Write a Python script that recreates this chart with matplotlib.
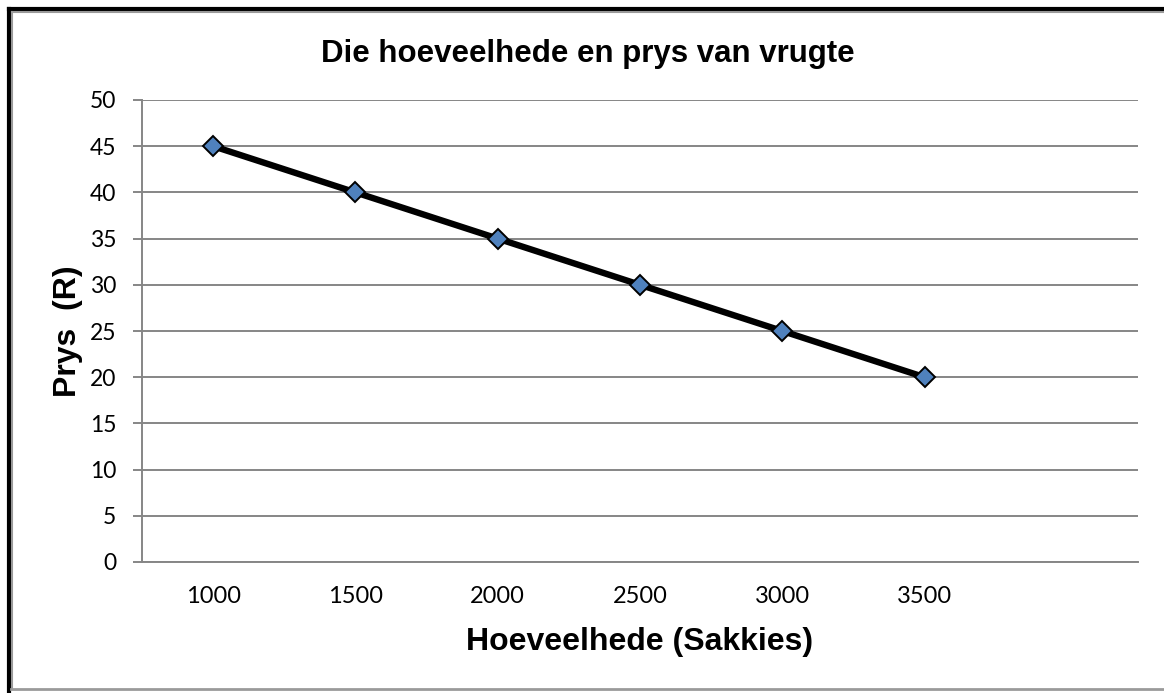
import matplotlib.pyplot as plt
from matplotlib.lines import Line2D

quantities = ['1000', '1500', '2000', '2500', '3000', '3500', '']
prices = [45, 40, 35, 30, 25, 20]
yticks = [0, 5, 10, 15, 20, 25, 30, 35, 40, 45, 50]

W, H = 1164, 693
fig = plt.figure(figsize=(W / 100, H / 100), dpi=100)
ax = fig.add_axes([142 / W, 1 - 562 / H, (1138 - 142) / W, (562 - 100) / H])

grid = '#868686'
x = list(range(len(prices)))
ax.plot(x, prices, color='black', lw=4.6, zorder=3,
        marker='D', markersize=10.5, markerfacecolor='#4F81BD',
        markeredgecolor='black', markeredgewidth=1.4)

ax.set_xlim(-0.5, len(quantities) - 0.5)
ax.set_ylim(0, 50)
ax.set_yticks(yticks)
ax.set_xticks(range(len(quantities)))
ax.set_xticklabels(quantities)
ax.yaxis.grid(True, color=grid, lw=1.4)
ax.set_axisbelow(True)

for s in ['top', 'right']:
    ax.spines[s].set_visible(False)
ax.spines['left'].set_color(grid)
ax.spines['left'].set_linewidth(1.4)
ax.spines['bottom'].set_color(grid)
ax.spines['bottom'].set_linewidth(1.4)

ax.tick_params(axis='y', length=6.5, width=1.4, color=grid, pad=12,
               labelsize=16.5, labelfontfamily='Lato')
ax.tick_params(axis='x', length=0, pad=17,
               labelsize=17, labelfontfamily='Lato')

ax.set_xlabel('Hoeveelhede (Sakkies)', fontsize=23, fontweight='bold',
              family='Liberation Sans', labelpad=15)
ax.set_ylabel('Prys  (R)', fontsize=23, fontweight='bold',
              family='Liberation Sans', labelpad=5)
fig.text(588 / W, 1 - 54 / H, 'Die hoeveelhede en prys van vrugte',
         ha='center', va='center', fontsize=22.5, fontweight='bold',
         family='Liberation Sans')

# outer frame like the original screenshot
def fl(x0, y0, x1, y1, c, lw):
    fig.add_artist(Line2D([x0 / W, x1 / W], [1 - y0 / H, 1 - y1 / H],
                          color=c, lw=lw, transform=fig.transFigure))

fl(9, 9, W, 9, 'black', 3)
fl(9, 9, 9, H, 'black', 3)
fl(12, 12, W, 12, '#9a9a9a', 1.5)
fl(12, 12, 12, 688, '#9a9a9a', 1.5)
fl(11, 689, W, 689, '#9a9a9a', 2)

fig.savefig('out.png', dpi=100)
